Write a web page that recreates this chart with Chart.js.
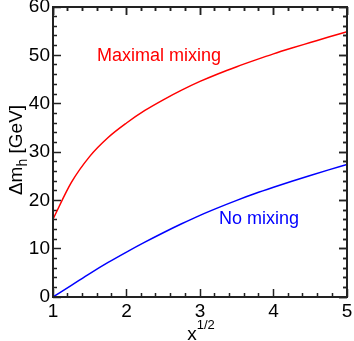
<!DOCTYPE html>
<html>
<head>
<meta charset="utf-8">
<script src="https://cdn.jsdelivr.net/npm/chart.js@4"></script>
<style>
  body { margin: 0; background: #fff; }
  #wrap { width: 354px; height: 341px; }
</style>
</head>
<body>
<div id="wrap"><canvas id="myChart" width="354" height="341"></canvas></div>
<script>
// values (x = sqrt(x), y = delta m_h in GeV)
const xValues = [1, 1.25, 1.5, 1.75, 2, 2.25, 2.5, 2.75, 3, 3.25, 3.5, 3.75, 4, 4.25, 4.5, 4.75, 5];
const maximalMixing = [16.1, 23.7, 29.1, 33.0, 36.0, 38.6, 40.8, 42.8, 44.6, 46.2, 47.65, 49.0, 50.3, 51.5, 52.65, 53.8, 54.9];
const noMixing = [0, 2.4, 4.85, 7.15, 9.3, 11.35, 13.3, 15.15, 16.9, 18.5, 20.0, 21.4, 22.7, 23.95, 25.15, 26.3, 27.4];
const xTicks = [1, 2, 3, 4, 5];
const yTicks = [0, 10, 20, 30, 40, 50, 60];

const FONT = "'Liberation Sans', Arial, sans-serif";
const X_MIN = xTicks[0], X_MAX = xTicks[xTicks.length - 1];
const Y_MIN = yTicks[0], Y_MAX = yTicks[yTicks.length - 1];
const isMajor = (v, step) => Math.abs(v / step - Math.round(v / step)) < 1e-6;

// tick marks drawn by the axes themselves, pointing inward (negative length).
// minor ticks are cut to half length with a dash; on top/left the line
// starts at the inner end, so the dash is shifted there
function gridOpts(majorStep, startsInside) {
  return {
    display: true,
    drawOnChartArea: false,
    drawTicks: true,
    tickLength: -8,
    tickWidth: 1.5,
    tickColor: "#222",
    tickBorderDash: (c) => (c.tick && !isMajor(c.tick.value, majorStep) ? [4, 4] : []),
    tickBorderDashOffset: (c) => (c.tick && !isMajor(c.tick.value, majorStep) && startsInside ? 4 : 0),
  };
}

function mirrorAxis(axis, position) {
  const isX = axis === "x";
  return {
    type: "linear",
    axis: axis,
    position: position,
    min: isX ? X_MIN : Y_MIN,
    max: isX ? X_MAX : Y_MAX,
    grid: gridOpts(isX ? 1 : 10, position === "top"),
    border: { display: false },
    ticks: { display: true, stepSize: isX ? 0.2 : 2, autoSkip: false, callback: () => "" },
    afterFit: (s) => {
      if (isX) s.height = 0; else s.width = 0;
      s.paddingLeft = s.paddingRight = s.paddingTop = s.paddingBottom = 0;
    },
  };
}

const alignPx = (p) => Math.round(p - 0.5) + 0.5;

// curve labels, axis titles, mirrored ticks and the frame
const framePlugin = {
  id: "frame",
  afterDraw(chart) {
    const { ctx, chartArea: a } = chart;
    const xs = chart.scales.x, ys = chart.scales.y;

    ctx.save();
    ctx.textBaseline = "alphabetic";
    ctx.textAlign = "left";
    ctx.font = "18px " + FONT;
    ctx.fillStyle = "#ff0000";
    ctx.fillText("Maximal mixing", xs.getPixelForValue(1.6), ys.getPixelForValue(48.8));
    ctx.fillStyle = "#0000ff";
    ctx.fillText("No mixing", xs.getPixelForValue(3.26), ys.getPixelForValue(15.1));

    // top and right ticks
    ctx.strokeStyle = "#222";
    ctx.lineWidth = 1.5;
    ctx.beginPath();
    xs.getTicks().forEach((t) => {
      const px = alignPx(xs.getPixelForValue(t.value));
      const len = isMajor(t.value, 1) ? 8 : 4;
      ctx.moveTo(px, a.top); ctx.lineTo(px, a.top + len);
    });
    ys.getTicks().forEach((t) => {
      const py = alignPx(ys.getPixelForValue(t.value));
      const len = isMajor(t.value, 10) ? 8 : 4;
      ctx.moveTo(a.right, py); ctx.lineTo(a.right - len, py);
    });
    ctx.stroke();
    ctx.beginPath();
    ctx.moveTo(a.left, a.top); ctx.lineTo(a.right, a.top);
    ctx.lineTo(a.right, a.bottom); ctx.lineTo(a.left, a.bottom);
    ctx.closePath();
    ctx.lineWidth = 2;
    ctx.stroke();

    // x axis title: x^{1/2}
    ctx.fillStyle = "#000";
    ctx.font = "19px " + FONT;
    const xw = ctx.measureText("x").width;
    ctx.font = "13px " + FONT;
    const sw = ctx.measureText("1/2").width;
    const cx = (a.left + a.right) / 2 - (xw + sw) / 2 + 1;
    ctx.font = "19px " + FONT;
    ctx.fillText("x", cx, 340);
    ctx.font = "13px " + FONT;
    ctx.fillText("1/2", cx + xw, 329);

    // y axis title: Δm_h [GeV]
    ctx.translate(22, 150);
    ctx.rotate(-Math.PI / 2);
    ctx.font = "19px " + FONT;
    const p1 = "Δm", p3 = " [GeV]";
    const w1 = ctx.measureText(p1).width;
    const w3 = ctx.measureText(p3).width;
    ctx.font = "14px " + FONT;
    const w2 = ctx.measureText("h").width;
    const sx = -(w1 + w2 + w3) / 2;
    ctx.font = "19px " + FONT;
    ctx.fillText(p1, sx, 0);
    ctx.font = "14px " + FONT;
    ctx.fillText("h", sx + w1, 5);
    ctx.font = "19px " + FONT;
    ctx.fillText(p3, sx + w1 + w2, 0);
    ctx.restore();
  },
};

new Chart(document.getElementById("myChart").getContext("2d"), {
  type: "line",
  data: {
    datasets: [
      {
        label: "Maximal mixing",
        data: xValues.map((x, i) => ({ x: x, y: maximalMixing[i] })),
        borderColor: "#ff0000",
        borderWidth: 1.5,
        pointRadius: 0,
        cubicInterpolationMode: "monotone",
      },
      {
        label: "No mixing",
        data: xValues.map((x, i) => ({ x: x, y: noMixing[i] })),
        borderColor: "#0000ff",
        borderWidth: 1.5,
        pointRadius: 0,
        cubicInterpolationMode: "monotone",
      },
    ],
  },
  options: {
    responsive: false,
    animation: false,
    layout: { padding: { top: 7, right: 7, left: 0, bottom: 0 } },
    plugins: { legend: { display: false }, tooltip: { enabled: false } },
    scales: {
      x: {
        type: "linear",
        position: "bottom",
        min: X_MIN,
        max: X_MAX,
        grid: gridOpts(1, false),
        border: { display: false },
        ticks: {
          stepSize: 0.2,
          autoSkip: false,
          maxRotation: 0,
          padding: 11,
          color: "#000",
          font: { family: FONT, size: 19 },
          callback: (v) => (xTicks.some((t) => Math.abs(t - v) < 1e-6) ? String(Math.round(v)) : ""),
        },
        afterFit: (s) => { s.height = 44; s.paddingLeft = 0; s.paddingRight = 0; },
      },
      y: {
        type: "linear",
        position: "left",
        min: Y_MIN,
        max: Y_MAX,
        grid: gridOpts(10, true),
        border: { display: false },
        ticks: {
          stepSize: 2,
          autoSkip: false,
          padding: 11,
          color: "#000",
          font: { family: FONT, size: 19 },
          callback: (v) => (yTicks.includes(v) ? String(v) : ""),
        },
        afterFit: (s) => { s.width = 53; s.paddingTop = 0; s.paddingBottom = 0; },
      },
      xTop: mirrorAxis("x", "top"),
      yRight: mirrorAxis("y", "right"),
    },
  },
  plugins: [framePlugin],
});
</script>
</body>
</html>
